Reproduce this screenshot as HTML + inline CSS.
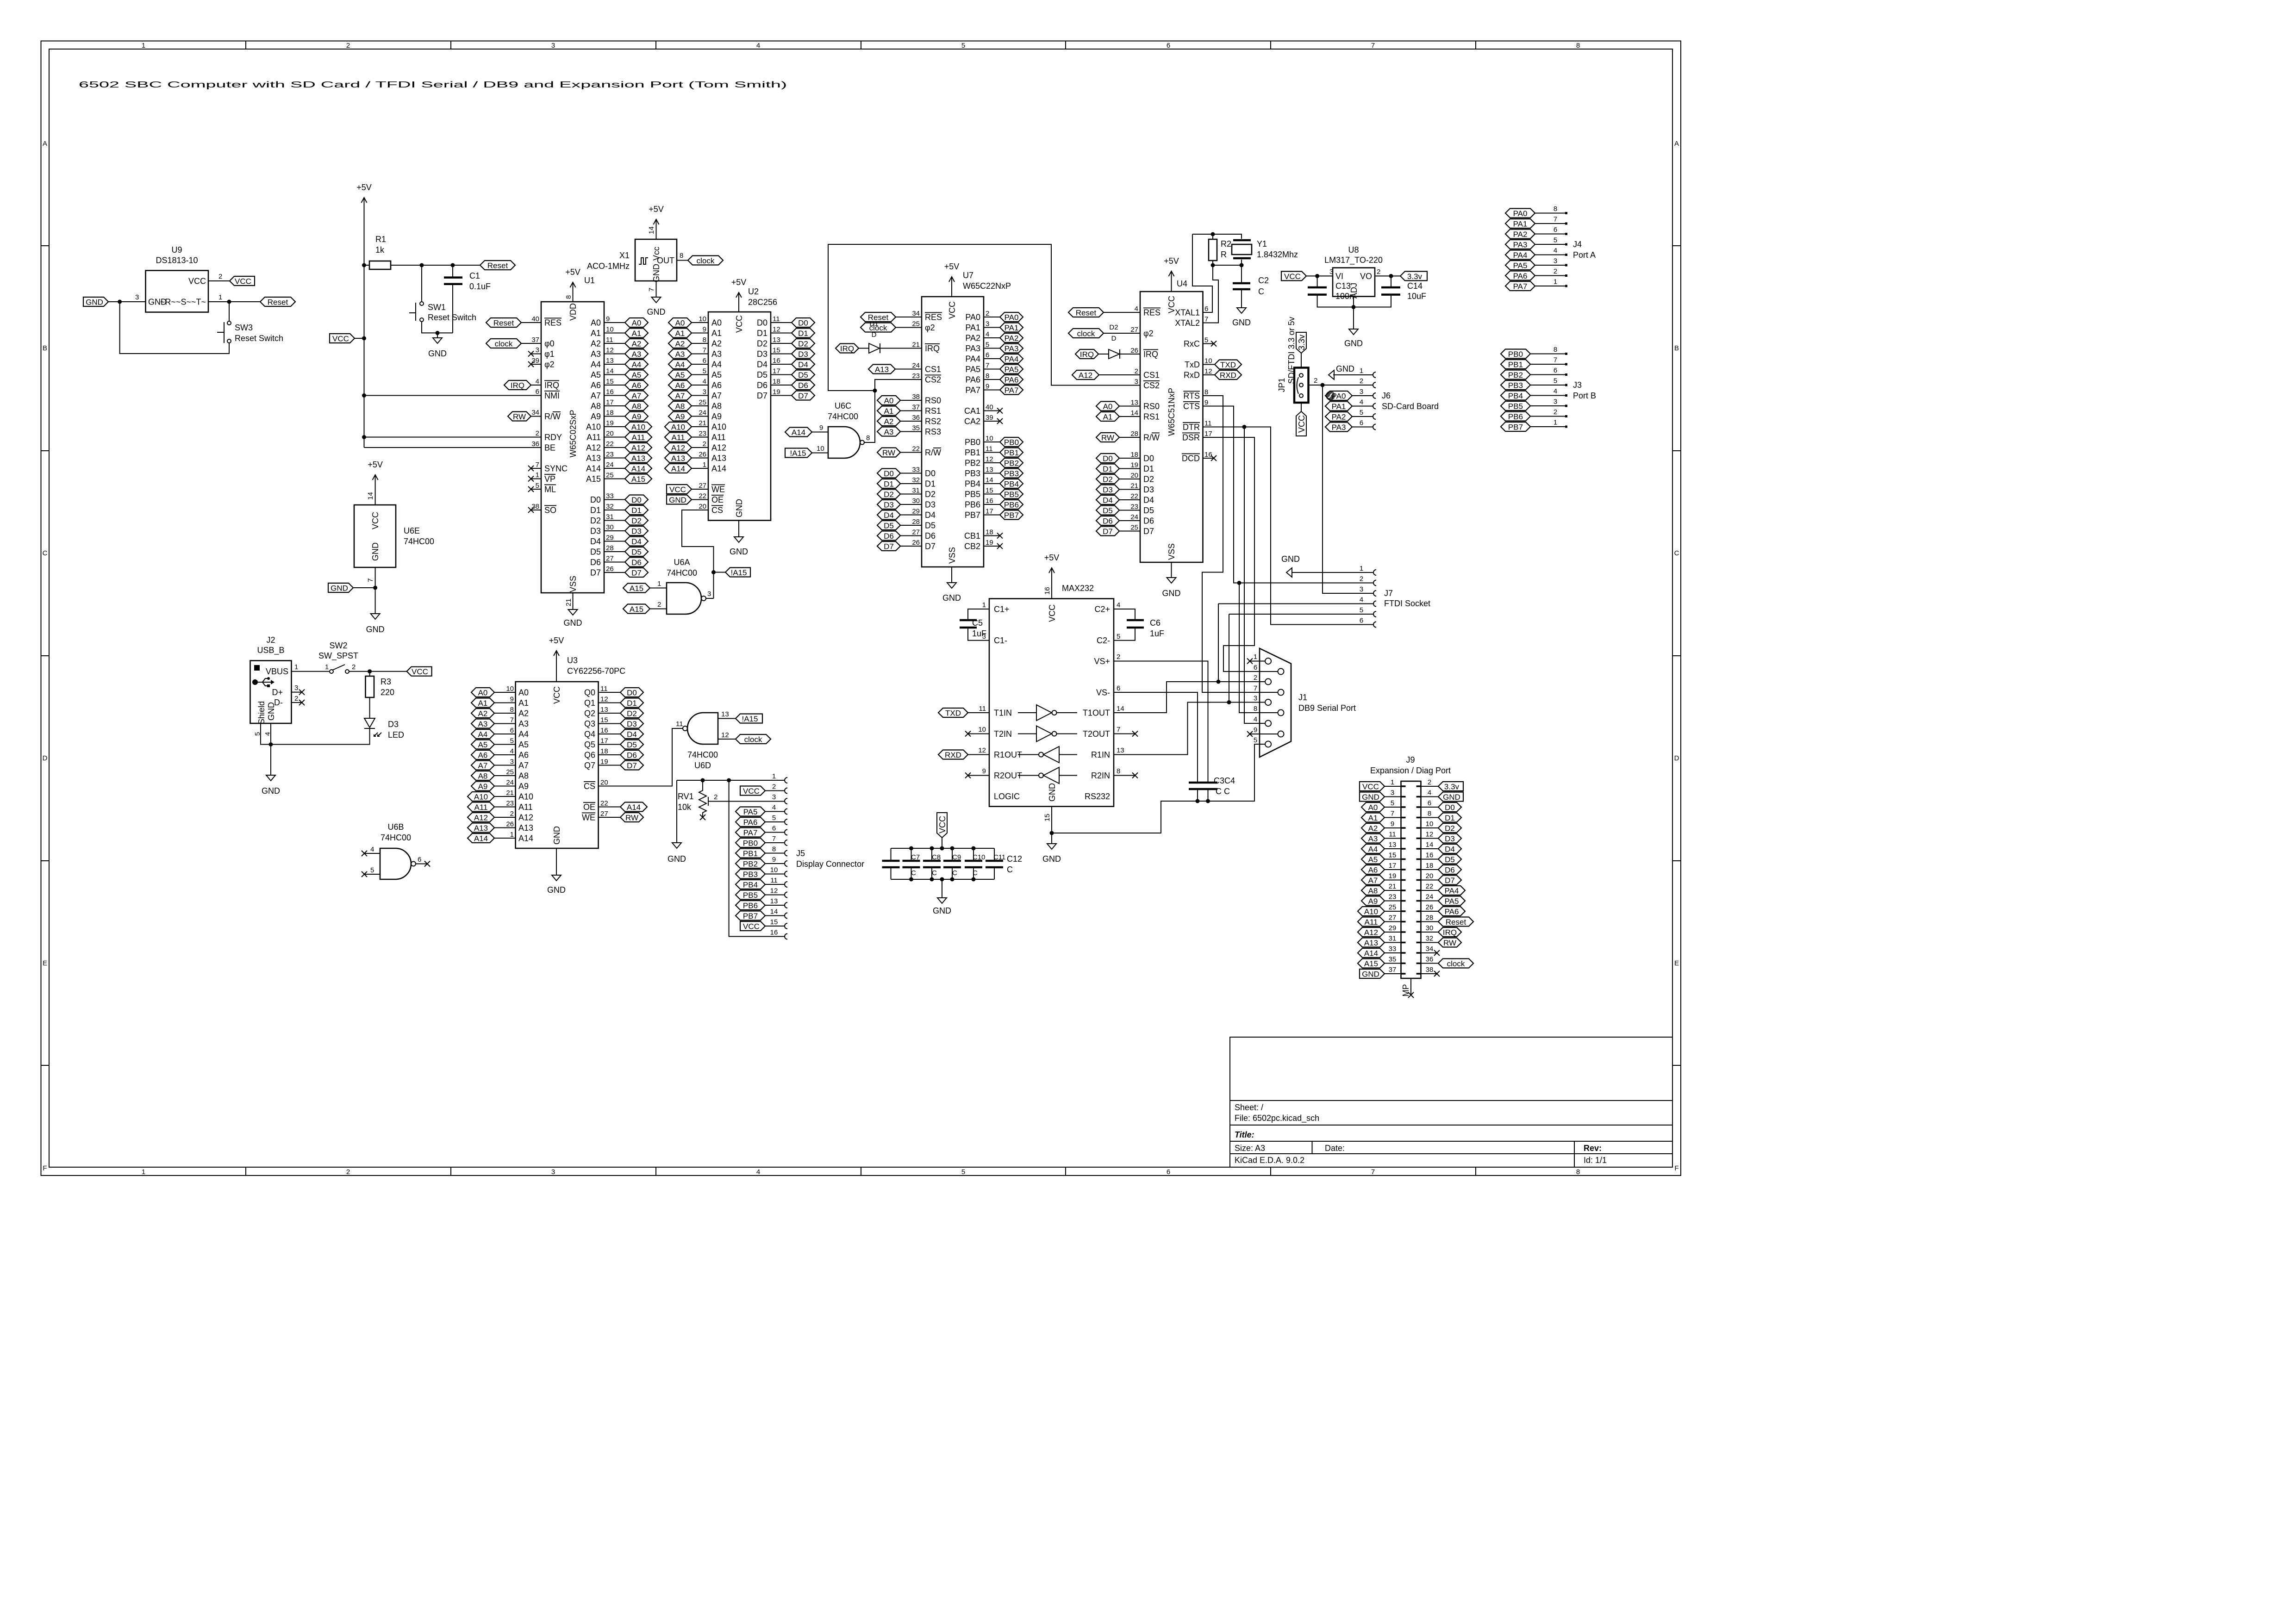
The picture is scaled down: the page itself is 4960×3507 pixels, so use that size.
<!DOCTYPE html>
<html><head><meta charset="utf-8"><title>6502 SBC schematic</title>
<style>
html,body{margin:0;padding:0;background:#fff}
svg{display:block}
text{font-family:"Liberation Sans",sans-serif;font-size:18px;fill:#000}
.n{font-size:15px}
.m{text-anchor:middle}
.e{text-anchor:end}
.l{font-size:17px;text-anchor:middle}
.o{text-decoration:overline}
.w{fill:none;stroke:#000;stroke-width:2}
.b{fill:none;stroke:#000;stroke-width:2.6}
.t{fill:none;stroke:#000;stroke-width:4.5}
.j{fill:#000}
</style></head><body>
<svg width="4960" height="3507" viewBox="0 0 4960 3507" xmlns="http://www.w3.org/2000/svg">
<defs>
<path id="h50" d="M0 0l10-10h30l10 10-10 10h-30z" fill="none" stroke="#000" stroke-width="2.2"/>
<path id="h58" d="M0 0l10-10h38l10 10-10 10h-38z" fill="none" stroke="#000" stroke-width="2.2"/>
<path id="h64" d="M0 0l10-10h44l10 10-10 10h-44z" fill="none" stroke="#000" stroke-width="2.2"/>
<path id="h76" d="M0 0l10-10h56l10 10-10 10h-56z" fill="none" stroke="#000" stroke-width="2.2"/>
<path id="r54" d="M0-10h44l10 10-10 10h-44z" fill="none" stroke="#000" stroke-width="2.2"/>
<path id="r58" d="M0-10h48l10 10-10 10h-48z" fill="none" stroke="#000" stroke-width="2.2"/>
<path id="p54" d="M0 0l10-10h44v20h-44z" fill="none" stroke="#000" stroke-width="2.2"/>
<path id="p58" d="M0 0l10-10h48v20h-48z" fill="none" stroke="#000" stroke-width="2.2"/>
<path id="g" d="M-10 0h20l-10 12z" fill="none" stroke="#000" stroke-width="2"/>
<path id="v" d="M-6 11L0 0l6 11" fill="none" stroke="#000" stroke-width="2"/>
<path id="x" d="M-6-6l12 12m0-12l-12 12" fill="none" stroke="#000" stroke-width="2"/>
<path id="k" d="M5-6a6 6 0 0 0 0 12" fill="none" stroke="#000" stroke-width="2"/>
</defs>
<rect width="4960" height="3507" fill="#fff"/>

<!-- ===== Border ===== -->
<rect x="88.5" y="88.5" width="3542.5" height="2451.5" class="w"/>
<rect x="106" y="106" width="3507" height="2416" class="w"/>
<path class="w" d="M531 88.5V106M974 88.5V106M1417 88.5V106M1860 88.5V106M2302 88.5V106M2745 88.5V106M3188 88.5V106M531 2522V2540M974 2522V2540M1417 2522V2540M1860 2522V2540M2302 2522V2540M2745 2522V2540M3188 2522V2540M88.5 531H106M88.5 974H106M88.5 1417H106M88.5 1860H106M88.5 2302H106M3613 531H3631M3613 974H3631M3613 1417H3631M3613 1860H3631M3613 2302H3631"/>
<g class="m" style="font-size:15px">
<text x="310" y="103" class="m n">1</text><text x="752" y="103" class="m n">2</text><text x="1195" y="103" class="m n">3</text><text x="1638" y="103" class="m n">4</text><text x="2081" y="103" class="m n">5</text><text x="2524" y="103" class="m n">6</text><text x="2966" y="103" class="m n">7</text><text x="3409" y="103" class="m n">8</text>
<text x="310" y="2537" class="m n">1</text><text x="752" y="2537" class="m n">2</text><text x="1195" y="2537" class="m n">3</text><text x="1638" y="2537" class="m n">4</text><text x="2081" y="2537" class="m n">5</text><text x="2524" y="2537" class="m n">6</text><text x="2966" y="2537" class="m n">7</text><text x="3409" y="2537" class="m n">8</text>
<text x="97" y="315" class="m n">A</text><text x="97" y="757" class="m n">B</text><text x="97" y="1200" class="m n">C</text><text x="97" y="1643" class="m n">D</text><text x="97" y="2086" class="m n">E</text><text x="97" y="2529" class="m n">F</text>
<text x="3622" y="315" class="m n">A</text><text x="3622" y="757" class="m n">B</text><text x="3622" y="1200" class="m n">C</text><text x="3622" y="1643" class="m n">D</text><text x="3622" y="2086" class="m n">E</text><text x="3622" y="2529" class="m n">F</text>
</g>

<text x="170" y="189" font-size="34" textLength="1530" lengthAdjust="spacingAndGlyphs">6502 SBC Computer with SD Card / TFDI Serial / DB9 and Expansion Port (Tom Smith)</text>

<!-- ===== Title block ===== -->
<rect x="2657" y="2241" width="956" height="281" class="w"/>
<path class="w" d="M2657 2378H3613M2657 2431H3613M2657 2466H3613M2657 2493H3613M2834.5 2466V2493M3401 2466V2522"/>
<text x="2667" y="2399" font-size="19">Sheet: /</text>
<text x="2667" y="2422" font-size="19">File: 6502pc.kicad_sch</text>
<text x="2667" y="2458" font-size="28" font-weight="bold" font-style="italic">Title:</text>
<text x="2667" y="2487" font-size="19">Size: A3</text>
<text x="2862" y="2487" font-size="19">Date:</text>
<text x="3421" y="2487" font-size="19" font-weight="bold">Rev:</text>
<text x="2667" y="2513" font-size="19">KiCad E.D.A. 9.0.2</text>
<text x="3421" y="2513" font-size="19">Id: 1/1</text>

<!-- ===== U9 DS1813 ===== -->
<rect x="314.5" y="584.5" width="135.5" height="90" class="b"/>
<path class="w" d="M450 607H496M235 652H314.5M450 652H562M495 652V694M495 741V764H258.6V652M484 696V741M469 718H484"/>
<circle cx="495" cy="698" r="4" class="w"/><circle cx="495" cy="737" r="4" class="w"/>
<circle cx="258.6" cy="652" r="4.5" class="j"/><circle cx="495" cy="652" r="4.5" class="j"/>
<use href="#p54" x="496" y="607"/><text x="525" y="613.5" class="l">VCC</text>
<use href="#r54" x="180" y="652"/><text x="204" y="658.5" class="l">GND</text>
<use href="#h76" x="562" y="652"/><text x="600" y="658.5" class="l">Reset</text>
<text x="382" y="546" class="m">U9</text><text x="382" y="568.5" class="m">DS1813-10</text>
<text x="445" y="613.5" class="e">VCC</text><text x="320" y="658.5">GND</text><text x="445" y="658.5" class="e" font-size="16">~R~~S~~T~</text>
<text x="472" y="602" class="n">2</text><text x="292" y="647" class="n">3</text><text x="472" y="647" class="n">1</text>
<text x="507" y="714">SW3</text><text x="507" y="737">Reset Switch</text>

<!-- ===== +5V rail, R1, C1, SW1 ===== -->
<use href="#v" x="786.5" y="427"/><text x="786.5" y="411" class="m">+5V</text>
<rect x="798" y="564" width="46" height="18" class="b"/>
<path class="w" d="M786.5 427V967M786.5 573H798M844 573H1037M978 573V599.6M978 613.7V719.4M911 573V652M911 695V719.4H978M945 719.4V730M898 654V693M884 676H898M765 731H786.5"/>
<path class="t" d="M959 599.6H999M959 613.7H999"/>
<circle cx="911" cy="656" r="4" class="w"/><circle cx="911" cy="691" r="4" class="w"/>
<circle cx="786.5" cy="573" r="4.5" class="j"/><circle cx="911" cy="573" r="4.5" class="j"/><circle cx="978" cy="573" r="4.5" class="j"/><circle cx="945" cy="719.4" r="4.5" class="j"/><circle cx="786.5" cy="731" r="4.5" class="j"/><circle cx="786.5" cy="854.5" r="4.5" class="j"/><circle cx="786.5" cy="944.5" r="4.5" class="j"/>
<use href="#h76" x="1037" y="573"/><text x="1075" y="579.5" class="l">Reset</text>
<use href="#g" x="945" y="730"/><text x="945" y="770" class="m">GND</text>
<use href="#r54" x="712" y="731"/><text x="736" y="737.5" class="l">VCC</text>
<text x="811" y="523">R1</text><text x="811" y="546">1k</text>
<text x="1014" y="602">C1</text><text x="1014" y="625">0.1uF</text>
<text x="924" y="670">SW1</text><text x="924" y="692">Reset Switch</text>

<!-- ===== U1 W65C02 ===== -->
<rect x="1169" y="652" width="136" height="629" class="b"/>
<path class="w" d="M1126 697H1169M1126 742H1169M1147 764.5h22M1147 787h22M1147 832h22M786.5 854.5H1169M1147 899.5h22M786.5 944.5H1169M786.5 967H1169M1147 1012h22M1147 1034.5h22M1147 1057h22M1147 1102h22M1237.5 610V652M1237.5 1281V1317
M1305 697h45M1305 719.5h45M1305 742h45M1305 764.5h45M1305 787h45M1305 809.5h45M1305 832h45M1305 854.5h45M1305 877h45M1305 899.5h45M1305 922h45M1305 944.5h45M1305 967h45M1305 989.5h45M1305 1012h45M1305 1034.5h45M1305 1079.5h45M1305 1102h45M1305 1124.5h45M1305 1147h45M1305 1169.5h45M1305 1192h45M1305 1214.5h45M1305 1237h45"/>
<use href="#x" x="1147" y="764.5"/><use href="#x" x="1147" y="787"/><use href="#x" x="1147" y="1012"/><use href="#x" x="1147" y="1034.5"/><use href="#x" x="1147" y="1057"/><use href="#x" x="1147" y="1102"/>
<use href="#v" x="1237.5" y="610"/><text x="1237.5" y="594" class="m">+5V</text><text x="1262" y="612">U1</text>
<use href="#g" x="1237.5" y="1317"/><text x="1237.5" y="1352" class="m">GND</text>
<use href="#h76" x="1050" y="697"/><text x="1088" y="703.5" class="l">Reset</text>
<use href="#h76" x="1050" y="742"/><text x="1088" y="748.5" class="l">clock</text>
<use href="#h58" x="1089" y="832"/><text x="1118" y="838.5" class="l">IRQ</text>
<use href="#h50" x="1097" y="899.5"/><text x="1122" y="906" class="l">RW</text>
<g class="n e">
<text x="1165" y="694" class="n e">40</text><text x="1165" y="739" class="n e">37</text><text x="1165" y="761" class="n e">3</text><text x="1165" y="784" class="n e">39</text><text x="1165" y="829" class="n e">4</text><text x="1165" y="851" class="n e">6</text><text x="1165" y="896" class="n e">34</text><text x="1165" y="941" class="n e">2</text><text x="1165" y="964" class="n e">36</text><text x="1165" y="1009" class="n e">7</text><text x="1165" y="1031" class="n e">1</text><text x="1165" y="1054" class="n e">5</text><text x="1165" y="1099" class="n e">38</text>
</g>
<text x="1176" y="703.5" class="o">RES</text><text x="1176" y="748.5">φ0</text><text x="1176" y="771">φ1</text><text x="1176" y="793.5">φ2</text><text x="1176" y="838.5" class="o">IRQ</text><text x="1176" y="861" class="o">NMI</text><text x="1176" y="906">R/<tspan class="o">W</tspan></text><text x="1176" y="951">RDY</text><text x="1176" y="973.5">BE</text><text x="1176" y="1018.5">SYNC</text><text x="1176" y="1041" class="o">VP</text><text x="1176" y="1063.5" class="o">ML</text><text x="1176" y="1108.5" class="o">SO</text>
<text x="1298" y="703.5" class="e">A0</text><text x="1298" y="726" class="e">A1</text><text x="1298" y="748.5" class="e">A2</text><text x="1298" y="771" class="e">A3</text><text x="1298" y="793.5" class="e">A4</text><text x="1298" y="816" class="e">A5</text><text x="1298" y="838.5" class="e">A6</text><text x="1298" y="861" class="e">A7</text><text x="1298" y="883.5" class="e">A8</text><text x="1298" y="906" class="e">A9</text><text x="1298" y="928.5" class="e">A10</text><text x="1298" y="951" class="e">A11</text><text x="1298" y="973.5" class="e">A12</text><text x="1298" y="996" class="e">A13</text><text x="1298" y="1018.5" class="e">A14</text><text x="1298" y="1041" class="e">A15</text>
<text x="1298" y="1086" class="e">D0</text><text x="1298" y="1108.5" class="e">D1</text><text x="1298" y="1131" class="e">D2</text><text x="1298" y="1153.5" class="e">D3</text><text x="1298" y="1176" class="e">D4</text><text x="1298" y="1198.5" class="e">D5</text><text x="1298" y="1221" class="e">D6</text><text x="1298" y="1243.5" class="e">D7</text>
<g>
<text x="1309" y="694" class="n">9</text><text x="1309" y="716.5" class="n">10</text><text x="1309" y="739" class="n">11</text><text x="1309" y="761.5" class="n">12</text><text x="1309" y="784" class="n">13</text><text x="1309" y="806.5" class="n">14</text><text x="1309" y="829" class="n">15</text><text x="1309" y="851.5" class="n">16</text><text x="1309" y="874" class="n">17</text><text x="1309" y="896.5" class="n">18</text><text x="1309" y="919" class="n">19</text><text x="1309" y="941.5" class="n">20</text><text x="1309" y="964" class="n">22</text><text x="1309" y="986.5" class="n">23</text><text x="1309" y="1009" class="n">24</text><text x="1309" y="1031.5" class="n">25</text>
<text x="1309" y="1076.5" class="n">33</text><text x="1309" y="1099" class="n">32</text><text x="1309" y="1121.5" class="n">31</text><text x="1309" y="1144" class="n">30</text><text x="1309" y="1166.5" class="n">29</text><text x="1309" y="1189" class="n">28</text><text x="1309" y="1211.5" class="n">27</text><text x="1309" y="1234" class="n">26</text>
</g>
<text transform="translate(1244 674) rotate(-90)" class="m">VDD</text><text transform="translate(1244 1262) rotate(-90)" class="m">VSS</text><text transform="translate(1244 937) rotate(-90)" class="m">W65C02SxP</text>
<text transform="translate(1233 646) rotate(-90)" class="n">8</text><text transform="translate(1233 1310) rotate(-90)" class="n">21</text>
<use href="#h50" x="1350" y="697"/><use href="#h50" x="1350" y="719.5"/><use href="#h50" x="1350" y="742"/><use href="#h50" x="1350" y="764.5"/><use href="#h50" x="1350" y="787"/><use href="#h50" x="1350" y="809.5"/><use href="#h50" x="1350" y="832"/><use href="#h50" x="1350" y="854.5"/><use href="#h50" x="1350" y="877"/><use href="#h50" x="1350" y="899.5"/><use href="#h58" x="1350" y="922"/><use href="#h58" x="1350" y="944.5"/><use href="#h58" x="1350" y="967"/><use href="#h58" x="1350" y="989.5"/><use href="#h58" x="1350" y="1012"/><use href="#h58" x="1350" y="1034.5"/>
<use href="#h50" x="1350" y="1079.5"/><use href="#h50" x="1350" y="1102"/><use href="#h50" x="1350" y="1124.5"/><use href="#h50" x="1350" y="1147"/><use href="#h50" x="1350" y="1169.5"/><use href="#h50" x="1350" y="1192"/><use href="#h50" x="1350" y="1214.5"/><use href="#h50" x="1350" y="1237"/>
<text x="1375" y="703.5" class="l">A0</text><text x="1375" y="726" class="l">A1</text><text x="1375" y="748.5" class="l">A2</text><text x="1375" y="771" class="l">A3</text><text x="1375" y="793.5" class="l">A4</text><text x="1375" y="816" class="l">A5</text><text x="1375" y="838.5" class="l">A6</text><text x="1375" y="861" class="l">A7</text><text x="1375" y="883.5" class="l">A8</text><text x="1375" y="906" class="l">A9</text><text x="1379" y="928.5" class="l">A10</text><text x="1379" y="951" class="l">A11</text><text x="1379" y="973.5" class="l">A12</text><text x="1379" y="996" class="l">A13</text><text x="1379" y="1018.5" class="l">A14</text><text x="1379" y="1041" class="l">A15</text>
<text x="1375" y="1086" class="l">D0</text><text x="1375" y="1108.5" class="l">D1</text><text x="1375" y="1131" class="l">D2</text><text x="1375" y="1153.5" class="l">D3</text><text x="1375" y="1176" class="l">D4</text><text x="1375" y="1198.5" class="l">D5</text><text x="1375" y="1221" class="l">D6</text><text x="1375" y="1243.5" class="l">D7</text>

<!-- ===== X1 oscillator ===== -->
<rect x="1372" y="517" width="90" height="90" class="b"/>
<path class="w" d="M1417.5 474V517M1462 562.5H1486M1417.5 607V642M1380 571h5v-14h5v14h5v-14h5"/>
<use href="#v" x="1417.5" y="474"/><text x="1417.5" y="458" class="m">+5V</text>
<use href="#g" x="1417.5" y="642"/><text x="1417.5" y="680" class="m">GND</text>
<use href="#h76" x="1486" y="562.5"/><text x="1524" y="569" class="l">clock</text>
<text transform="translate(1424 548) rotate(-90)" class="m">Vcc</text><text transform="translate(1424 590) rotate(-90)" class="m">GND</text><text x="1457" y="569" class="e">OUT</text>
<text x="1360" y="558" class="e">X1</text><text x="1360" y="581" class="e">ACO-1MHz</text>
<text x="1468" y="557" class="n">8</text><text transform="translate(1412 506) rotate(-90)" class="n">14</text><text transform="translate(1412 630) rotate(-90)" class="n">7</text>

<!-- ===== U2 28C256 ===== -->
<rect x="1530" y="674" width="135" height="450.5" class="b"/>
<path class="w" d="M1494 697h36M1494 719.5h36M1494 742h36M1494 764.5h36M1494 787h36M1494 809.5h36M1494 832h36M1494 854.5h36M1494 877h36M1494 899.5h36M1494 922h36M1494 944.5h36M1494 967h36M1494 989.5h36M1494 1012h36M1494 1057h36M1494 1079.5h36
M1665 697h45M1665 719.5h45M1665 742h45M1665 764.5h45M1665 787h45M1665 809.5h45M1665 832h45M1665 854.5h45M1596 632V674M1596 1124.5V1160
M1530 1102H1473V1181H1541.5V1293M1525 1293H1541.5M1541.5 1236.5H1567"/>
<circle cx="1541.5" cy="1236.5" r="4.5" class="j"/>
<use href="#v" x="1596" y="632"/><text x="1596" y="616" class="m">+5V</text><text x="1616" y="636">U2</text><text x="1616" y="659">28C256</text>
<use href="#g" x="1596" y="1160"/><text x="1596" y="1198" class="m">GND</text>
<text transform="translate(1603 700) rotate(-90)" class="m">VCC</text><text transform="translate(1603 1098) rotate(-90)" class="m">GND</text>
<text x="1537" y="703.5">A0</text><text x="1537" y="726">A1</text><text x="1537" y="748.5">A2</text><text x="1537" y="771">A3</text><text x="1537" y="793.5">A4</text><text x="1537" y="816">A5</text><text x="1537" y="838.5">A6</text><text x="1537" y="861">A7</text><text x="1537" y="883.5">A8</text><text x="1537" y="906">A9</text><text x="1537" y="928.5">A10</text><text x="1537" y="951">A11</text><text x="1537" y="973.5">A12</text><text x="1537" y="996">A13</text><text x="1537" y="1018.5">A14</text><text x="1537" y="1063.5" class="o">WE</text><text x="1537" y="1086" class="o">OE</text><text x="1537" y="1108.5" class="o">CS</text>
<text x="1658" y="703.5" class="e">D0</text><text x="1658" y="726" class="e">D1</text><text x="1658" y="748.5" class="e">D2</text><text x="1658" y="771" class="e">D3</text><text x="1658" y="793.5" class="e">D4</text><text x="1658" y="816" class="e">D5</text><text x="1658" y="838.5" class="e">D6</text><text x="1658" y="861" class="e">D7</text>
<text x="1526" y="694" class="n e">10</text><text x="1526" y="716.5" class="n e">9</text><text x="1526" y="739" class="n e">8</text><text x="1526" y="761.5" class="n e">7</text><text x="1526" y="784" class="n e">6</text><text x="1526" y="806.5" class="n e">5</text><text x="1526" y="829" class="n e">4</text><text x="1526" y="851.5" class="n e">3</text><text x="1526" y="874" class="n e">25</text><text x="1526" y="896.5" class="n e">24</text><text x="1526" y="919" class="n e">21</text><text x="1526" y="941.5" class="n e">23</text><text x="1526" y="964" class="n e">2</text><text x="1526" y="986.5" class="n e">26</text><text x="1526" y="1009" class="n e">1</text><text x="1526" y="1054" class="n e">27</text><text x="1526" y="1076.5" class="n e">22</text><text x="1526" y="1099" class="n e">20</text>
<text x="1669" y="694" class="n">11</text><text x="1669" y="716.5" class="n">12</text><text x="1669" y="739" class="n">13</text><text x="1669" y="761.5" class="n">15</text><text x="1669" y="784" class="n">16</text><text x="1669" y="806.5" class="n">17</text><text x="1669" y="829" class="n">18</text><text x="1669" y="851.5" class="n">19</text>
<use href="#h50" x="1444" y="697"/><use href="#h50" x="1444" y="719.5"/><use href="#h50" x="1444" y="742"/><use href="#h50" x="1444" y="764.5"/><use href="#h50" x="1444" y="787"/><use href="#h50" x="1444" y="809.5"/><use href="#h50" x="1444" y="832"/><use href="#h50" x="1444" y="854.5"/><use href="#h50" x="1444" y="877"/><use href="#h50" x="1444" y="899.5"/><use href="#h58" x="1436" y="922"/><use href="#h58" x="1436" y="944.5"/><use href="#h58" x="1436" y="967"/><use href="#h58" x="1436" y="989.5"/><use href="#h58" x="1436" y="1012"/>
<text x="1469" y="703.5" class="l">A0</text><text x="1469" y="726" class="l">A1</text><text x="1469" y="748.5" class="l">A2</text><text x="1469" y="771" class="l">A3</text><text x="1469" y="793.5" class="l">A4</text><text x="1469" y="816" class="l">A5</text><text x="1469" y="838.5" class="l">A6</text><text x="1469" y="861" class="l">A7</text><text x="1469" y="883.5" class="l">A8</text><text x="1469" y="906" class="l">A9</text><text x="1465" y="928.5" class="l">A10</text><text x="1465" y="951" class="l">A11</text><text x="1465" y="973.5" class="l">A12</text><text x="1465" y="996" class="l">A13</text><text x="1465" y="1018.5" class="l">A14</text>
<use href="#r54" x="1440" y="1057"/><text x="1464" y="1063.5" class="l">VCC</text><use href="#r54" x="1440" y="1079.5"/><text x="1464" y="1086" class="l">GND</text>
<use href="#h50" x="1710" y="697"/><use href="#h50" x="1710" y="719.5"/><use href="#h50" x="1710" y="742"/><use href="#h50" x="1710" y="764.5"/><use href="#h50" x="1710" y="787"/><use href="#h50" x="1710" y="809.5"/><use href="#h50" x="1710" y="832"/><use href="#h50" x="1710" y="854.5"/>
<text x="1735" y="703.5" class="l">D0</text><text x="1735" y="726" class="l">D1</text><text x="1735" y="748.5" class="l">D2</text><text x="1735" y="771" class="l">D3</text><text x="1735" y="793.5" class="l">D4</text><text x="1735" y="816" class="l">D5</text><text x="1735" y="838.5" class="l">D6</text><text x="1735" y="861" class="l">D7</text>
<use href="#p54" x="1567" y="1236.5"/><text x="1596" y="1243" class="l">!A15</text>

<!-- ===== U6A ===== -->
<path class="b" d="M1440 1259H1481A34 34 0 0 1 1481 1327H1440Z"/>
<circle cx="1520" cy="1293" r="5" class="w"/>
<path class="w" d="M1404 1270.5H1440M1404 1315.5H1440"/>
<use href="#h58" x="1346" y="1270.5"/><text x="1375" y="1277" class="l">A15</text>
<use href="#h58" x="1346" y="1315.5"/><text x="1375" y="1322" class="l">A15</text>
<text x="1473" y="1221" class="m">U6A</text><text x="1473" y="1244" class="m">74HC00</text>
<text x="1420" y="1266" class="n">1</text><text x="1420" y="1311" class="n">2</text><text x="1528" y="1288" class="n">3</text>

<!-- ===== U6C + CS loop ===== -->
<path class="b" d="M1789 922H1824A34 34 0 0 1 1824 990H1789Z"/>
<circle cx="1862.5" cy="956" r="4.5" class="w"/>
<path class="w" d="M1754 933.5H1789M1754 978.5H1789M1867 956H1890V820H1991M1890 844H1789V528H2271V832.5H2463"/>
<circle cx="1890" cy="844" r="4.5" class="j"/>
<use href="#h58" x="1696" y="933.5"/><text x="1725" y="940" class="l">A14</text>
<use href="#r58" x="1696" y="978.5"/><text x="1724" y="985" class="l">!A15</text>
<text x="1821" y="883" class="m">U6C</text><text x="1821" y="906" class="m">74HC00</text>
<text x="1770" y="929" class="n">9</text><text x="1764" y="974" class="n">10</text><text x="1871" y="951" class="n">8</text>

<!-- ===== U7 W65C22 ===== -->
<rect x="1991" y="641" width="134" height="584" class="b"/>
<path class="w" d="M1935 685H1991M1935 707.5H1991M1855 752.5H1877M1901 752.5H1991M1934 797.5H1991M1945 865h46M1945 887.5h46M1945 910h46M1945 932.5h46M1945 977.5h46M1945 1022.5h46M1945 1045h46M1945 1067.5h46M1945 1090h46M1945 1112.5h46M1945 1135h46M1945 1157.5h46M1945 1180h46
M2125 685h35M2125 707.5h35M2125 730h35M2125 752.5h35M2125 775h35M2125 797.5h35M2125 820h35M2125 842.5h35M2125 887.5h35M2125 910h35M2125 955h35M2125 977.5h35M2125 1000h35M2125 1022.5h35M2125 1045h35M2125 1067.5h35M2125 1090h35M2125 1112.5h35M2125 1157.5h35M2125 1180h35M2056 598V641M2056 1225V1259
M1901 742V763"/>
<path d="M1877 742V763L1900 752.5Z" class="w"/>
<use href="#x" x="2160" y="887.5"/><use href="#x" x="2160" y="910"/><use href="#x" x="2160" y="1157.5"/><use href="#x" x="2160" y="1180"/>
<use href="#v" x="2056" y="598"/><text x="2056" y="582" class="m">+5V</text><text x="2080" y="601">U7</text><text x="2080" y="624">W65C22NxP</text>
<use href="#g" x="2056" y="1259"/><text x="2056" y="1298" class="m">GND</text>
<text transform="translate(2063 670) rotate(-90)" class="m">VCC</text><text transform="translate(2063 1200) rotate(-90)" class="m">VSS</text>
<use href="#h76" x="1859" y="685"/><text x="1897" y="691.5" class="l">Reset</text>
<use href="#h76" x="1859" y="707.5"/><text x="1897" y="714" class="l">clock</text>
<text x="1888" y="704" class="m n">D1</text><text x="1888" y="728" class="m n">D</text>
<use href="#h50" x="1805" y="752.5"/><text x="1830" y="759" class="l">IRQ</text>
<use href="#h58" x="1876" y="797.5"/><text x="1905" y="804" class="l">A13</text>
<use href="#h50" x="1895" y="865"/><use href="#h50" x="1895" y="887.5"/><use href="#h50" x="1895" y="910"/><use href="#h50" x="1895" y="932.5"/><use href="#h50" x="1895" y="977.5"/>
<use href="#h50" x="1895" y="1022.5"/><use href="#h50" x="1895" y="1045"/><use href="#h50" x="1895" y="1067.5"/><use href="#h50" x="1895" y="1090"/><use href="#h50" x="1895" y="1112.5"/><use href="#h50" x="1895" y="1135"/><use href="#h50" x="1895" y="1157.5"/><use href="#h50" x="1895" y="1180"/>
<text x="1920" y="871.5" class="l">A0</text><text x="1920" y="894" class="l">A1</text><text x="1920" y="916.5" class="l">A2</text><text x="1920" y="939" class="l">A3</text><text x="1920" y="984" class="l">RW</text>
<text x="1920" y="1029" class="l">D0</text><text x="1920" y="1051.5" class="l">D1</text><text x="1920" y="1074" class="l">D2</text><text x="1920" y="1096.5" class="l">D3</text><text x="1920" y="1119" class="l">D4</text><text x="1920" y="1141.5" class="l">D5</text><text x="1920" y="1164" class="l">D6</text><text x="1920" y="1186.5" class="l">D7</text>
<text x="1998" y="691.5" class="o">RES</text><text x="1998" y="714">φ2</text><text x="1998" y="759" class="o">IRQ</text><text x="1998" y="804">CS1</text><text x="1998" y="826.5" class="o">CS2</text><text x="1998" y="871.5">RS0</text><text x="1998" y="894">RS1</text><text x="1998" y="916.5">RS2</text><text x="1998" y="939">RS3</text><text x="1998" y="984">R/<tspan class="o">W</tspan></text>
<text x="1998" y="1029">D0</text><text x="1998" y="1051.5">D1</text><text x="1998" y="1074">D2</text><text x="1998" y="1096.5">D3</text><text x="1998" y="1119">D4</text><text x="1998" y="1141.5">D5</text><text x="1998" y="1164">D6</text><text x="1998" y="1186.5">D7</text>
<text x="2118" y="691.5" class="e">PA0</text><text x="2118" y="714" class="e">PA1</text><text x="2118" y="736.5" class="e">PA2</text><text x="2118" y="759" class="e">PA3</text><text x="2118" y="781.5" class="e">PA4</text><text x="2118" y="804" class="e">PA5</text><text x="2118" y="826.5" class="e">PA6</text><text x="2118" y="849" class="e">PA7</text><text x="2118" y="894" class="e">CA1</text><text x="2118" y="916.5" class="e">CA2</text>
<text x="2118" y="961.5" class="e">PB0</text><text x="2118" y="984" class="e">PB1</text><text x="2118" y="1006.5" class="e">PB2</text><text x="2118" y="1029" class="e">PB3</text><text x="2118" y="1051.5" class="e">PB4</text><text x="2118" y="1074" class="e">PB5</text><text x="2118" y="1096.5" class="e">PB6</text><text x="2118" y="1119" class="e">PB7</text><text x="2118" y="1164" class="e">CB1</text><text x="2118" y="1186.5" class="e">CB2</text>
<text x="1987" y="682" class="n e">34</text><text x="1987" y="704.5" class="n e">25</text><text x="1987" y="749.5" class="n e">21</text><text x="1987" y="794.5" class="n e">24</text><text x="1987" y="817" class="n e">23</text><text x="1987" y="862" class="n e">38</text><text x="1987" y="884.5" class="n e">37</text><text x="1987" y="907" class="n e">36</text><text x="1987" y="929.5" class="n e">35</text><text x="1987" y="974.5" class="n e">22</text><text x="1987" y="1019.5" class="n e">33</text><text x="1987" y="1042" class="n e">32</text><text x="1987" y="1064.5" class="n e">31</text><text x="1987" y="1087" class="n e">30</text><text x="1987" y="1109.5" class="n e">29</text><text x="1987" y="1132" class="n e">28</text><text x="1987" y="1154.5" class="n e">27</text><text x="1987" y="1177" class="n e">26</text>
<text x="2129" y="682" class="n">2</text><text x="2129" y="704.5" class="n">3</text><text x="2129" y="727" class="n">4</text><text x="2129" y="749.5" class="n">5</text><text x="2129" y="772" class="n">6</text><text x="2129" y="794.5" class="n">7</text><text x="2129" y="817" class="n">8</text><text x="2129" y="839.5" class="n">9</text><text x="2129" y="884.5" class="n">40</text><text x="2129" y="907" class="n">39</text><text x="2129" y="952" class="n">10</text><text x="2129" y="974.5" class="n">11</text><text x="2129" y="997" class="n">12</text><text x="2129" y="1019.5" class="n">13</text><text x="2129" y="1042" class="n">14</text><text x="2129" y="1064.5" class="n">15</text><text x="2129" y="1087" class="n">16</text><text x="2129" y="1109.5" class="n">17</text><text x="2129" y="1154.5" class="n">18</text><text x="2129" y="1177" class="n">19</text>
<use href="#h50" x="2160" y="685"/><use href="#h50" x="2160" y="707.5"/><use href="#h50" x="2160" y="730"/><use href="#h50" x="2160" y="752.5"/><use href="#h50" x="2160" y="775"/><use href="#h50" x="2160" y="797.5"/><use href="#h50" x="2160" y="820"/><use href="#h50" x="2160" y="842.5"/>
<use href="#h50" x="2160" y="955"/><use href="#h50" x="2160" y="977.5"/><use href="#h50" x="2160" y="1000"/><use href="#h50" x="2160" y="1022.5"/><use href="#h50" x="2160" y="1045"/><use href="#h50" x="2160" y="1067.5"/><use href="#h50" x="2160" y="1090"/><use href="#h50" x="2160" y="1112.5"/>
<text x="2185" y="691.5" class="l">PA0</text><text x="2185" y="714" class="l">PA1</text><text x="2185" y="736.5" class="l">PA2</text><text x="2185" y="759" class="l">PA3</text><text x="2185" y="781.5" class="l">PA4</text><text x="2185" y="804" class="l">PA5</text><text x="2185" y="826.5" class="l">PA6</text><text x="2185" y="849" class="l">PA7</text>
<text x="2185" y="961.5" class="l">PB0</text><text x="2185" y="984" class="l">PB1</text><text x="2185" y="1006.5" class="l">PB2</text><text x="2185" y="1029" class="l">PB3</text><text x="2185" y="1051.5" class="l">PB4</text><text x="2185" y="1074" class="l">PB5</text><text x="2185" y="1096.5" class="l">PB6</text><text x="2185" y="1119" class="l">PB7</text>

<!-- ===== U4 W65C51 ===== -->
<rect x="2463" y="630" width="135.5" height="585" class="b"/>
<path class="w" d="M2384 675H2463M2384 720H2463M2373 765H2395M2419 765H2463M2374 810H2463M2418 877.5h45M2418 900h45M2418 945h45M2418 990h45M2418 1012.5h45M2418 1035h45M2418 1057.5h45M2418 1080h45M2418 1102.5h45M2418 1125h45M2418 1147.5h45
M2598 742.5h24M2598 787.5h26M2598 810h26M2598 990h24M2530.5 586V630M2530.5 1215V1248M2419 755V775"/>
<path d="M2395 755V775L2418 765Z" class="w"/>
<use href="#x" x="2622" y="742.5"/><use href="#x" x="2622" y="990"/>
<use href="#v" x="2530.5" y="586"/><text x="2530.5" y="570" class="m">+5V</text><text x="2542" y="619">U4</text>
<use href="#g" x="2530.5" y="1248"/><text x="2530.5" y="1288" class="m">GND</text>
<text transform="translate(2537 658) rotate(-90)" class="m">VCC</text><text transform="translate(2537 1192) rotate(-90)" class="m">VSS</text><text transform="translate(2537 890) rotate(-90)" class="m">W65C51NxP</text>
<use href="#h76" x="2308" y="675"/><text x="2346" y="681.5" class="l">Reset</text>
<use href="#h76" x="2308" y="720"/><text x="2346" y="726.5" class="l">clock</text>
<text x="2406" y="712" class="m n">D2</text><text x="2406" y="736" class="m n">D</text>
<use href="#h50" x="2323" y="765"/><text x="2348" y="771.5" class="l">IRQ</text>
<use href="#h58" x="2316" y="810"/><text x="2345" y="816.5" class="l">A12</text>
<use href="#h50" x="2368" y="877.5"/><use href="#h50" x="2368" y="900"/><use href="#h50" x="2368" y="945"/>
<use href="#h50" x="2368" y="990"/><use href="#h50" x="2368" y="1012.5"/><use href="#h50" x="2368" y="1035"/><use href="#h50" x="2368" y="1057.5"/><use href="#h50" x="2368" y="1080"/><use href="#h50" x="2368" y="1102.5"/><use href="#h50" x="2368" y="1125"/><use href="#h50" x="2368" y="1147.5"/>
<text x="2393" y="884" class="l">A0</text><text x="2393" y="906.5" class="l">A1</text><text x="2393" y="951.5" class="l">RW</text>
<text x="2393" y="996.5" class="l">D0</text><text x="2393" y="1019" class="l">D1</text><text x="2393" y="1041.5" class="l">D2</text><text x="2393" y="1064" class="l">D3</text><text x="2393" y="1086.5" class="l">D4</text><text x="2393" y="1109" class="l">D5</text><text x="2393" y="1131.5" class="l">D6</text><text x="2393" y="1154" class="l">D7</text>
<text x="2470" y="681.5" class="o">RES</text><text x="2470" y="726.5">φ2</text><text x="2470" y="771.5" class="o">IRQ</text><text x="2470" y="816.5">CS1</text><text x="2470" y="839" class="o">CS2</text><text x="2470" y="884">RS0</text><text x="2470" y="906.5">RS1</text><text x="2470" y="951.5">R/<tspan class="o">W</tspan></text>
<text x="2470" y="996.5">D0</text><text x="2470" y="1019">D1</text><text x="2470" y="1041.5">D2</text><text x="2470" y="1064">D3</text><text x="2470" y="1086.5">D4</text><text x="2470" y="1109">D5</text><text x="2470" y="1131.5">D6</text><text x="2470" y="1154">D7</text>
<text x="2592" y="681.5" class="e">XTAL1</text><text x="2592" y="704" class="e">XTAL2</text><text x="2592" y="749" class="e">RxC</text><text x="2592" y="794" class="e">TxD</text><text x="2592" y="816.5" class="e">RxD</text><text x="2592" y="861.5" class="e o">RTS</text><text x="2592" y="884" class="e o">CTS</text><text x="2592" y="929" class="e o">DTR</text><text x="2592" y="951.5" class="e o">DSR</text><text x="2592" y="996.5" class="e o">DCD</text>
<text x="2459" y="672" class="n e">4</text><text x="2459" y="717" class="n e">27</text><text x="2459" y="762" class="n e">26</text><text x="2459" y="807" class="n e">2</text><text x="2459" y="829.5" class="n e">3</text><text x="2459" y="874.5" class="n e">13</text><text x="2459" y="897" class="n e">14</text><text x="2459" y="942" class="n e">28</text><text x="2459" y="987" class="n e">18</text><text x="2459" y="1009.5" class="n e">19</text><text x="2459" y="1032" class="n e">20</text><text x="2459" y="1054.5" class="n e">21</text><text x="2459" y="1077" class="n e">22</text><text x="2459" y="1099.5" class="n e">23</text><text x="2459" y="1122" class="n e">24</text><text x="2459" y="1144.5" class="n e">25</text>
<text x="2602" y="672" class="n">6</text><text x="2602" y="694.5" class="n">7</text><text x="2602" y="739.5" class="n">5</text><text x="2602" y="784.5" class="n">10</text><text x="2602" y="807" class="n">12</text><text x="2602" y="852" class="n">8</text><text x="2602" y="874.5" class="n">9</text><text x="2602" y="919.5" class="n">11</text><text x="2602" y="942" class="n">17</text><text x="2602" y="987" class="n">16</text>
<use href="#h58" x="2624" y="787.5"/><text x="2653" y="794" class="l">TXD</text>
<use href="#h58" x="2624" y="810"/><text x="2653" y="816.5" class="l">RXD</text>

<!-- ===== Crystal Y1, R2, C2 ===== -->
<rect x="2611" y="517" width="18" height="46" class="b"/>
<rect x="2661" y="528" width="43" height="22" class="b"/>
<path class="w" d="M2576 506H2682V516M2620 506V517M2620 563V605H2632V697.5H2598M2598 675H2619V618H2576V506M2682 561V610M2620 573H2682M2682 627V665"/>
<path class="t" d="M2664 519H2702M2664 558H2702M2663 612H2701M2663 625H2701"/>
<circle cx="2620" cy="506" r="4.5" class="j"/><circle cx="2620" cy="573" r="4.5" class="j"/><circle cx="2682" cy="573" r="4.5" class="j"/>
<use href="#g" x="2682" y="665"/><text x="2682" y="703" class="m">GND</text>
<text x="2637" y="533">R2</text><text x="2637" y="556">R</text><text x="2715" y="533">Y1</text><text x="2715" y="556">1.8432Mhz</text>
<text x="2718" y="612">C2</text><text x="2718" y="636">C</text>

<!-- ===== U8 LM317 ===== -->
<rect x="2879" y="578.6" width="91" height="62" class="b"/>
<path class="w" d="M2822 596.4H2879M2845.6 596.4V621M2845.6 637V663.5H3005V637M2970 596.4H3025M3005 596.4V621M2924 640.6V711"/>
<path class="t" d="M2825 621H2866M2825 636.6H2866M2984 621H3025M2984 636.6H3025"/>
<circle cx="2845.6" cy="596.4" r="4.5" class="j"/><circle cx="3005" cy="596.4" r="4.5" class="j"/><circle cx="2924" cy="663.5" r="4.5" class="j"/>
<use href="#r54" x="2768" y="596.4"/><text x="2792" y="603" class="l">VCC</text>
<use href="#p58" x="3025" y="596.4"/><text x="3056" y="603" class="l">3.3v</text>
<use href="#g" x="2924" y="711"/><text x="2924" y="748" class="m">GND</text>
<text x="2924" y="546" class="m">U8</text><text x="2924" y="568" class="m">LM317_TO-220</text>
<text x="2885" y="603">VI</text><text x="2964" y="603" class="e">VO</text><text x="2885" y="624">C13</text><text x="2885" y="646">100n</text>
<text transform="translate(2931 628) rotate(-90)" class="m" font-size="16">ADJ</text>
<text x="2872" y="592" class="n">3</text><text x="2974" y="592" class="n">2</text><text x="3040" y="624">C14</text><text x="3040" y="646">10uF</text>

<!-- ===== J4 Port A / J3 Port B ===== -->
<path class="w" d="M3316 460.5H3385M3316 483H3385M3316 505.5H3385M3316 528H3385M3316 550.5H3385M3316 573H3385M3316 595.5H3385M3316 618H3385M3306 764.5H3385M3306 787H3385M3306 809.5H3385M3306 832H3385M3306 854.5H3385M3306 877H3385M3306 899.5H3385M3306 922H3385"/>
<path d="M3381 458h5v5h-5zM3381 480.5h5v5h-5zM3381 503h5v5h-5zM3381 525.5h5v5h-5zM3381 548h5v5h-5zM3381 570.5h5v5h-5zM3381 593h5v5h-5zM3381 615.5h5v5h-5zM3381 762h5v5h-5zM3381 784.5h5v5h-5zM3381 807h5v5h-5zM3381 829.5h5v5h-5zM3381 852h5v5h-5zM3381 874.5h5v5h-5zM3381 897h5v5h-5zM3381 919.5h5v5h-5z" class="j"/>
<use href="#h64" x="3252" y="460.5"/><use href="#h64" x="3252" y="483"/><use href="#h64" x="3252" y="505.5"/><use href="#h64" x="3252" y="528"/><use href="#h64" x="3252" y="550.5"/><use href="#h64" x="3252" y="573"/><use href="#h64" x="3252" y="595.5"/><use href="#h64" x="3252" y="618"/>
<text x="3284" y="467" class="l">PA0</text><text x="3284" y="489.5" class="l">PA1</text><text x="3284" y="512" class="l">PA2</text><text x="3284" y="534.5" class="l">PA3</text><text x="3284" y="557" class="l">PA4</text><text x="3284" y="579.5" class="l">PA5</text><text x="3284" y="602" class="l">PA6</text><text x="3284" y="624.5" class="l">PA7</text>
<text x="3360" y="456" class="m n">8</text><text x="3360" y="478.5" class="m n">7</text><text x="3360" y="501" class="m n">6</text><text x="3360" y="523.5" class="m n">5</text><text x="3360" y="546" class="m n">4</text><text x="3360" y="568.5" class="m n">3</text><text x="3360" y="591" class="m n">2</text><text x="3360" y="613.5" class="m n">1</text>
<text x="3398" y="534">J4</text><text x="3398" y="557">Port A</text>
<use href="#h64" x="3242" y="764.5"/><use href="#h64" x="3242" y="787"/><use href="#h64" x="3242" y="809.5"/><use href="#h64" x="3242" y="832"/><use href="#h64" x="3242" y="854.5"/><use href="#h64" x="3242" y="877"/><use href="#h64" x="3242" y="899.5"/><use href="#h64" x="3242" y="922"/>
<text x="3274" y="771" class="l">PB0</text><text x="3274" y="793.5" class="l">PB1</text><text x="3274" y="816" class="l">PB2</text><text x="3274" y="838.5" class="l">PB3</text><text x="3274" y="861" class="l">PB4</text><text x="3274" y="883.5" class="l">PB5</text><text x="3274" y="906" class="l">PB6</text><text x="3274" y="928.5" class="l">PB7</text>
<text x="3360" y="760" class="m n">8</text><text x="3360" y="782.5" class="m n">7</text><text x="3360" y="805" class="m n">6</text><text x="3360" y="827.5" class="m n">5</text><text x="3360" y="850" class="m n">4</text><text x="3360" y="872.5" class="m n">3</text><text x="3360" y="895" class="m n">2</text><text x="3360" y="917.5" class="m n">1</text>
<text x="3398" y="838">J3</text><text x="3398" y="861">Port B</text>

<!-- ===== JP1 / J6 ===== -->
<rect x="2796" y="794.5" width="30.5" height="75.5" class="t"/>
<path class="w" d="M2811 763V794.5M2811 870V889M2826.5 832H2967M2880 810H2967M2921 855H2967M2921 877.5H2967M2921 900H2967M2921 922.5H2967M2857 832V1282H2968M2805 815Q2798 833 2805 851"/>
<path class="w" d="M2800 718H2822V753L2811 763L2800 753ZM2800 942H2822V899L2811 889L2800 899Z"/>
<circle cx="2811" cy="811" r="4" class="w"/><circle cx="2811" cy="832" r="4" class="w"/><circle cx="2811" cy="855" r="4" class="w"/>
<circle cx="2857" cy="832" r="4.5" class="j"/>
<circle cx="2874" cy="855" r="10" fill="#444"/><path d="M2868 860q6-2 6-5t6-5" stroke="#fff" stroke-width="2.5" fill="none"/>
<text transform="translate(2818 740) rotate(-90)" class="m" font-size="16">3.3v</text>
<text transform="translate(2818 916) rotate(-90)" class="m" font-size="16">VCC</text>
<text transform="translate(2775 832) rotate(-90)" class="m">JP1</text>
<text transform="translate(2796 757) rotate(-90)" class="m">SD/FTDI 3.3 or 5v</text>
<text x="2838" y="827" class="n">2</text>
<path d="M2870 810L2882 800V820Z" class="w"/><text x="2906" y="803" class="m">GND</text>
<use href="#k" x="2967" y="810"/><use href="#k" x="2967" y="832"/><use href="#k" x="2967" y="855"/><use href="#k" x="2967" y="877.5"/><use href="#k" x="2967" y="900"/><use href="#k" x="2967" y="922.5"/>
<text x="2941" y="806" class="m n">1</text><text x="2941" y="828" class="m n">2</text><text x="2941" y="851" class="m n">3</text><text x="2941" y="873.5" class="m n">4</text><text x="2941" y="896" class="m n">5</text><text x="2941" y="918.5" class="m n">6</text>
<use href="#h58" x="2863" y="855"/><use href="#h58" x="2863" y="877.5"/><use href="#h58" x="2863" y="900"/><use href="#h58" x="2863" y="922.5"/>
<text x="2892" y="861.5" class="l">PA0</text><text x="2892" y="884" class="l">PA1</text><text x="2892" y="906.5" class="l">PA2</text><text x="2892" y="929" class="l">PA3</text>
<text x="2985" y="861">J6</text><text x="2985" y="884">SD-Card Board</text>

<!-- ===== J7 FTDI + DB9 wiring ===== -->
<path class="w" d="M2598 855H2642V1236.5H2597V1496H2760M2598 877.5H2665V1259.5H2968M2677 1259.5V1540H2760M2598 922.5H2745V1349.5H2968M2688 922.5V1563H2733M2598 945H2710V1395H2643V1451H2760M2632 1304.5H2968M2632 1304.5V1473M2655 1327H2968M2655 1327V1517.5M2791 1237H2968M2700 1428.5H2733M2700 1586H2760"/>
<path d="M2779 1237L2791 1227V1247Z" class="w"/><text x="2788" y="1214" class="m">GND</text>
<circle cx="2677" cy="1259.5" r="4.5" class="j"/><circle cx="2688" cy="922.5" r="4.5" class="j"/><circle cx="2632" cy="1473" r="4.5" class="j"/><circle cx="2655" cy="1517.5" r="4.5" class="j"/>
<use href="#k" x="2968" y="1237"/><use href="#k" x="2968" y="1259.5"/><use href="#k" x="2968" y="1282"/><use href="#k" x="2968" y="1304.5"/><use href="#k" x="2968" y="1327"/><use href="#k" x="2968" y="1349.5"/>
<text x="2941" y="1233" class="m n">1</text><text x="2941" y="1255.5" class="m n">2</text><text x="2941" y="1278" class="m n">3</text><text x="2941" y="1300.5" class="m n">4</text><text x="2941" y="1323" class="m n">5</text><text x="2941" y="1345.5" class="m n">6</text>
<text x="2990" y="1288">J7</text><text x="2990" y="1310">FTDI Socket</text>
<path d="M2721 1401L2789 1434V1602L2721 1636Z" class="b"/>
<circle cx="2739.6" cy="1428.5" r="6.5" class="w"/><circle cx="2767" cy="1451" r="6.5" class="w"/><circle cx="2739.6" cy="1473" r="6.5" class="w"/><circle cx="2767" cy="1496" r="6.5" class="w"/><circle cx="2739.6" cy="1517.5" r="6.5" class="w"/><circle cx="2767" cy="1540" r="6.5" class="w"/><circle cx="2739.6" cy="1563" r="6.5" class="w"/><circle cx="2767" cy="1586" r="6.5" class="w"/><circle cx="2739.6" cy="1608" r="6.5" class="w"/>
<use href="#x" x="2700" y="1428.5"/><use href="#x" x="2700" y="1586"/>
<text x="2712" y="1424" class="m n">1</text><text x="2712" y="1447" class="m n">6</text><text x="2712" y="1469" class="m n">2</text><text x="2712" y="1492" class="m n">7</text><text x="2712" y="1513.5" class="m n">3</text><text x="2712" y="1536" class="m n">8</text><text x="2712" y="1559" class="m n">4</text><text x="2712" y="1582" class="m n">9</text><text x="2712" y="1604" class="m n">5</text>
<text x="2805" y="1513">J1</text><text x="2805" y="1536">DB9 Serial Port</text>

<!-- ===== MAX232 ===== -->
<rect x="2137" y="1293.6" width="269" height="449" class="b"/>
<path class="w" d="M2272 1227V1293.6M2272 1742.5V1823M2272 1800H2508V1731H2710V1608H2733M2137 1316H2091V1340M2091 1356V1383.7H2137M2406 1316H2452V1340M2452 1356V1383.7H2406
M2406 1428.5H2609.5V1691M2406 1496H2587V1691M2587 1705V1731M2609.5 1705V1731
M2091 1540H2137M2091 1585.5H2137M2091 1630.5H2137M2091 1675.5H2137M2406 1585.5H2452M2406 1675.5H2452
M2406 1540H2520V1473H2733M2406 1630.5H2565.5V1517.5H2733M2632 1473H2733M2655 1517.5H2733
M2199 1540H2239M2283 1540H2327M2199 1585.5H2239M2283 1585.5H2327M2199 1630.5H2244M2288 1630.5H2327M2199 1675.5H2244M2288 1675.5H2327"/>
<path class="w" d="M2239 1523V1557L2272 1540ZM2239 1568.5V1602.5L2272 1585.5ZM2288 1613V1648L2254 1630.5ZM2288 1658V1693L2254 1675.5Z"/>
<circle cx="2277.5" cy="1540" r="5" class="w"/><circle cx="2277.5" cy="1585.5" r="5" class="w"/><circle cx="2249" cy="1630.5" r="5" class="w"/><circle cx="2249" cy="1675.5" r="5" class="w"/>
<path class="t" d="M2073 1340H2110M2073 1356H2110M2434 1340H2471M2434 1356H2471M2568 1691H2630M2568 1705H2630"/>
<circle cx="2272" cy="1800" r="4.5" class="j"/><circle cx="2587" cy="1731" r="4.5" class="j"/><circle cx="2609.5" cy="1731" r="4.5" class="j"/>
<use href="#x" x="2091" y="1585.5"/><use href="#x" x="2091" y="1675.5"/><use href="#x" x="2452" y="1585.5"/><use href="#x" x="2452" y="1675.5"/>
<use href="#v" x="2272" y="1227"/><text x="2272" y="1211" class="m">+5V</text><text x="2294" y="1277">MAX232</text>
<use href="#g" x="2272" y="1823"/><text x="2272" y="1862" class="m">GND</text>
<use href="#h64" x="2027" y="1540"/><text x="2059" y="1546.5" class="l">TXD</text>
<use href="#h64" x="2027" y="1630.5"/><text x="2059" y="1637" class="l">RXD</text>
<text x="2147" y="1322.5">C1+</text><text x="2147" y="1390">C1-</text><text x="2147" y="1546.5">T1IN</text><text x="2147" y="1592">T2IN</text><text x="2147" y="1637">R1OUT</text><text x="2147" y="1682">R2OUT</text><text x="2147" y="1727">LOGIC</text>
<text x="2398" y="1322.5" class="e">C2+</text><text x="2398" y="1390" class="e">C2-</text><text x="2398" y="1435" class="e">VS+</text><text x="2398" y="1502.5" class="e">VS-</text><text x="2398" y="1546.5" class="e">T1OUT</text><text x="2398" y="1592" class="e">T2OUT</text><text x="2398" y="1637" class="e">R1IN</text><text x="2398" y="1682" class="e">R2IN</text><text x="2398" y="1727" class="e">RS232</text>
<text transform="translate(2279 1325) rotate(-90)" class="m">VCC</text><text transform="translate(2279 1712) rotate(-90)" class="m">GND</text>
<text x="2130" y="1312" class="n e">1</text><text x="2130" y="1380" class="n e">3</text><text x="2130" y="1536" class="n e">11</text><text x="2130" y="1581" class="n e">10</text><text x="2130" y="1626" class="n e">12</text><text x="2130" y="1671" class="n e">9</text>
<text x="2412" y="1312" class="n">4</text><text x="2412" y="1380" class="n">5</text><text x="2412" y="1424" class="n">2</text><text x="2412" y="1492" class="n">6</text><text x="2412" y="1536" class="n">14</text><text x="2412" y="1581" class="n">7</text><text x="2412" y="1626" class="n">13</text><text x="2412" y="1671" class="n">8</text>
<text transform="translate(2267 1285) rotate(-90)" class="n">16</text><text transform="translate(2267 1775) rotate(-90)" class="n">15</text>
<text x="2100" y="1352">C5</text><text x="2100" y="1375">1uF</text><text x="2484" y="1352">C6</text><text x="2484" y="1375">1uF</text>
<text x="2622" y="1693">C3C4</text><text x="2626" y="1716">C C</text>

<!-- ===== C7-C12 bank ===== -->
<path class="w" d="M1924.5 1833H2148M1924.5 1900H2148M1924.5 1833V1860M1924.5 1874V1900M1968.5 1833V1860M1968.5 1874V1900M2013 1833V1860M2013 1874V1900M2057 1833V1860M2057 1874V1900M2103 1833V1860M2103 1874V1900M2148 1833V1860M2148 1874V1900M2035 1810V1833M2035 1900V1940"/>
<path class="t" d="M1905.5 1860h38M1905.5 1874h38M1949.5 1860h38M1949.5 1874h38M1994 1860h38M1994 1874h38M2038 1860h38M2038 1874h38M2084 1860h38M2084 1874h38M2129 1860h38M2129 1874h38"/>
<path d="M2024 1756H2046V1800L2035 1810L2024 1800Z" class="w"/><text transform="translate(2042 1782) rotate(-90)" class="m" font-size="16">VCC</text>
<circle cx="1968.5" cy="1833" r="4.5" class="j"/><circle cx="2013" cy="1833" r="4.5" class="j"/><circle cx="2035" cy="1833" r="4.5" class="j"/><circle cx="2057" cy="1833" r="4.5" class="j"/><circle cx="2103" cy="1833" r="4.5" class="j"/>
<circle cx="1968.5" cy="1900" r="4.5" class="j"/><circle cx="2013" cy="1900" r="4.5" class="j"/><circle cx="2035" cy="1900" r="4.5" class="j"/><circle cx="2057" cy="1900" r="4.5" class="j"/><circle cx="2103" cy="1900" r="4.5" class="j"/>
<use href="#g" x="2035" y="1940"/><text x="2035" y="1974" class="m">GND</text>
<text x="1968" y="1857" class="n">C7</text><text x="2013" y="1857" class="n">C8</text><text x="2057" y="1857" class="n">C9</text><text x="2101" y="1857" class="n">C10</text><text x="2146" y="1857" class="n">C11</text>
<text x="1968" y="1891" class="n">C</text><text x="2013" y="1891" class="n">C</text><text x="2057" y="1891" class="n">C</text><text x="2101" y="1891" class="n">C</text>
<text x="2175" y="1862">C12</text><text x="2175" y="1885">C</text>

<!-- ===== U3 CY62256 ===== -->
<rect x="1113.6" y="1473" width="179" height="360" class="b"/>
<path class="w" d="M1068 1496h45.6M1068 1518.5h45.6M1068 1541h45.6M1068 1563.5h45.6M1068 1586h45.6M1068 1608.5h45.6M1068 1631h45.6M1068 1653.5h45.6M1068 1676h45.6M1068 1698.5h45.6M1068 1721h45.6M1068 1743.5h45.6M1068 1766h45.6M1068 1788.5h45.6M1068 1811h45.6
M1292.7 1496H1340M1292.7 1518.5H1340M1292.7 1541H1340M1292.7 1563.5H1340M1292.7 1586H1340M1292.7 1608.5H1340M1292.7 1631H1340M1292.7 1653.5H1340M1292.7 1743.5H1340M1292.7 1766H1340M1292.7 1698.5H1452V1574H1475M1202 1406V1473M1202 1833V1891"/>
<use href="#v" x="1202" y="1406"/><text x="1202" y="1390" class="m">+5V</text><text x="1225" y="1433">U3</text><text x="1225" y="1456">CY62256-70PC</text>
<use href="#g" x="1202" y="1891"/><text x="1202" y="1929" class="m">GND</text>
<text transform="translate(1209 1502) rotate(-90)" class="m">VCC</text><text transform="translate(1209 1805) rotate(-90)" class="m">GND</text>
<text x="1120" y="1502.5">A0</text><text x="1120" y="1525">A1</text><text x="1120" y="1547.5">A2</text><text x="1120" y="1570">A3</text><text x="1120" y="1592.5">A4</text><text x="1120" y="1615">A5</text><text x="1120" y="1637.5">A6</text><text x="1120" y="1660">A7</text><text x="1120" y="1682.5">A8</text><text x="1120" y="1705">A9</text><text x="1120" y="1727.5">A10</text><text x="1120" y="1750">A11</text><text x="1120" y="1772.5">A12</text><text x="1120" y="1795">A13</text><text x="1120" y="1817.5">A14</text>
<text x="1286" y="1502.5" class="e">Q0</text><text x="1286" y="1525" class="e">Q1</text><text x="1286" y="1547.5" class="e">Q2</text><text x="1286" y="1570" class="e">Q3</text><text x="1286" y="1592.5" class="e">Q4</text><text x="1286" y="1615" class="e">Q5</text><text x="1286" y="1637.5" class="e">Q6</text><text x="1286" y="1660" class="e">Q7</text><text x="1286" y="1705" class="e o">CS</text><text x="1286" y="1750" class="e o">OE</text><text x="1286" y="1772.5" class="e o">WE</text>
<text x="1110" y="1493" class="n e">10</text><text x="1110" y="1515.5" class="n e">9</text><text x="1110" y="1538" class="n e">8</text><text x="1110" y="1560.5" class="n e">7</text><text x="1110" y="1583" class="n e">6</text><text x="1110" y="1605.5" class="n e">5</text><text x="1110" y="1628" class="n e">4</text><text x="1110" y="1650.5" class="n e">3</text><text x="1110" y="1673" class="n e">25</text><text x="1110" y="1695.5" class="n e">24</text><text x="1110" y="1718" class="n e">21</text><text x="1110" y="1740.5" class="n e">23</text><text x="1110" y="1763" class="n e">2</text><text x="1110" y="1785.5" class="n e">26</text><text x="1110" y="1808" class="n e">1</text>
<text x="1297" y="1493" class="n">11</text><text x="1297" y="1515.5" class="n">12</text><text x="1297" y="1538" class="n">13</text><text x="1297" y="1560.5" class="n">15</text><text x="1297" y="1583" class="n">16</text><text x="1297" y="1605.5" class="n">17</text><text x="1297" y="1628" class="n">18</text><text x="1297" y="1650.5" class="n">19</text><text x="1297" y="1695.5" class="n">20</text><text x="1297" y="1740.5" class="n">22</text><text x="1297" y="1763" class="n">27</text>
<use href="#h50" x="1018" y="1496"/><use href="#h50" x="1018" y="1518.5"/><use href="#h50" x="1018" y="1541"/><use href="#h50" x="1018" y="1563.5"/><use href="#h50" x="1018" y="1586"/><use href="#h50" x="1018" y="1608.5"/><use href="#h50" x="1018" y="1631"/><use href="#h50" x="1018" y="1653.5"/><use href="#h50" x="1018" y="1676"/><use href="#h50" x="1018" y="1698.5"/><use href="#h58" x="1010" y="1721"/><use href="#h58" x="1010" y="1743.5"/><use href="#h58" x="1010" y="1766"/><use href="#h58" x="1010" y="1788.5"/><use href="#h58" x="1010" y="1811"/>
<text x="1043" y="1502.5" class="l">A0</text><text x="1043" y="1525" class="l">A1</text><text x="1043" y="1547.5" class="l">A2</text><text x="1043" y="1570" class="l">A3</text><text x="1043" y="1592.5" class="l">A4</text><text x="1043" y="1615" class="l">A5</text><text x="1043" y="1637.5" class="l">A6</text><text x="1043" y="1660" class="l">A7</text><text x="1043" y="1682.5" class="l">A8</text><text x="1043" y="1705" class="l">A9</text><text x="1039" y="1727.5" class="l">A10</text><text x="1039" y="1750" class="l">A11</text><text x="1039" y="1772.5" class="l">A12</text><text x="1039" y="1795" class="l">A13</text><text x="1039" y="1817.5" class="l">A14</text>
<use href="#h50" x="1340" y="1496"/><use href="#h50" x="1340" y="1518.5"/><use href="#h50" x="1340" y="1541"/><use href="#h50" x="1340" y="1563.5"/><use href="#h50" x="1340" y="1586"/><use href="#h50" x="1340" y="1608.5"/><use href="#h50" x="1340" y="1631"/><use href="#h50" x="1340" y="1653.5"/><use href="#h58" x="1340" y="1743.5"/><use href="#h50" x="1340" y="1766"/>
<text x="1365" y="1502.5" class="l">D0</text><text x="1365" y="1525" class="l">D1</text><text x="1365" y="1547.5" class="l">D2</text><text x="1365" y="1570" class="l">D3</text><text x="1365" y="1592.5" class="l">D4</text><text x="1365" y="1615" class="l">D5</text><text x="1365" y="1637.5" class="l">D6</text><text x="1365" y="1660" class="l">D7</text><text x="1369" y="1750" class="l">A14</text><text x="1365" y="1772.5" class="l">RW</text>

<!-- ===== U6D ===== -->
<path class="b" d="M1551 1540H1519A34 34 0 0 0 1519 1608H1551Z"/>
<circle cx="1480" cy="1574" r="5" class="w"/>
<path class="w" d="M1551 1552.5H1589M1551 1597H1589"/>
<use href="#p58" x="1589" y="1552.5"/><text x="1620" y="1559" class="l">!A15</text>
<use href="#h76" x="1589" y="1597"/><text x="1627" y="1603.5" class="l">clock</text>
<text x="1518" y="1637" class="m">74HC00</text><text x="1518" y="1660" class="m">U6D</text>
<text x="1460" y="1569" class="n">11</text><text x="1558" y="1548" class="n">13</text><text x="1558" y="1593" class="n">12</text>

<!-- ===== RV1 / J5 ===== -->
<path class="w" d="M1462 1686H1696M1462 1686V1821M1518 1686V1708l-8 4 16 8-16 8 16 8-16 8 16 8-8 4V1766M1530 1731.5H1696M1530 1722V1741M1574.6 1686V2023.5H1696
M1653 1708.5H1696M1653 1753.5H1696M1653 1776H1696M1653 1798.5H1696M1653 1821H1696M1653 1843.5H1696M1653 1866H1696M1653 1888.5H1696M1653 1911H1696M1653 1933.5H1696M1653 1956H1696M1653 1978.5H1696M1653 2001H1696"/>
<use href="#x" x="1518" y="1766"/>
<circle cx="1518" cy="1686" r="4.5" class="j"/><circle cx="1574.6" cy="1686" r="4.5" class="j"/>
<use href="#g" x="1462" y="1821"/><text x="1462" y="1862" class="m">GND</text>
<text x="1464" y="1727">RV1</text><text x="1464" y="1750">10k</text><text x="1542" y="1727" class="n">2</text>
<use href="#k" x="1696" y="1686"/><use href="#k" x="1696" y="1708.5"/><use href="#k" x="1696" y="1731"/><use href="#k" x="1696" y="1753.5"/><use href="#k" x="1696" y="1776"/><use href="#k" x="1696" y="1798.5"/><use href="#k" x="1696" y="1821"/><use href="#k" x="1696" y="1843.5"/><use href="#k" x="1696" y="1866"/><use href="#k" x="1696" y="1888.5"/><use href="#k" x="1696" y="1911"/><use href="#k" x="1696" y="1933.5"/><use href="#k" x="1696" y="1956"/><use href="#k" x="1696" y="1978.5"/><use href="#k" x="1696" y="2001"/><use href="#k" x="1696" y="2023.5"/>
<text x="1672" y="1682" class="m n">1</text><text x="1672" y="1704.5" class="m n">2</text><text x="1672" y="1727" class="m n">3</text><text x="1672" y="1749.5" class="m n">4</text><text x="1672" y="1772" class="m n">5</text><text x="1672" y="1794.5" class="m n">6</text><text x="1672" y="1817" class="m n">7</text><text x="1672" y="1839.5" class="m n">8</text><text x="1672" y="1862" class="m n">9</text><text x="1672" y="1884.5" class="m n">10</text><text x="1672" y="1907" class="m n">11</text><text x="1672" y="1929.5" class="m n">12</text><text x="1672" y="1952" class="m n">13</text><text x="1672" y="1974.5" class="m n">14</text><text x="1672" y="1997" class="m n">15</text><text x="1672" y="2019.5" class="m n">16</text>
<use href="#r54" x="1599" y="1708.5"/><text x="1623" y="1715" class="l">VCC</text>
<use href="#h64" x="1589" y="1753.5"/><use href="#h64" x="1589" y="1776"/><use href="#h64" x="1589" y="1798.5"/><use href="#h64" x="1589" y="1821"/><use href="#h64" x="1589" y="1843.5"/><use href="#h64" x="1589" y="1866"/><use href="#h64" x="1589" y="1888.5"/><use href="#h64" x="1589" y="1911"/><use href="#h64" x="1589" y="1933.5"/><use href="#h64" x="1589" y="1956"/><use href="#h64" x="1589" y="1978.5"/>
<text x="1621" y="1760" class="l">PA5</text><text x="1621" y="1782.5" class="l">PA6</text><text x="1621" y="1805" class="l">PA7</text><text x="1621" y="1827.5" class="l">PB0</text><text x="1621" y="1850" class="l">PB1</text><text x="1621" y="1872.5" class="l">PB2</text><text x="1621" y="1895" class="l">PB3</text><text x="1621" y="1917.5" class="l">PB4</text><text x="1621" y="1940" class="l">PB5</text><text x="1621" y="1962.5" class="l">PB6</text><text x="1621" y="1985" class="l">PB7</text>
<use href="#r54" x="1599" y="2001"/><text x="1623" y="2007.5" class="l">VCC</text>
<text x="1720" y="1850">J5</text><text x="1720" y="1873">Display Connector</text>

<!-- ===== U6E ===== -->
<rect x="765" y="1091" width="90" height="135" class="b"/>
<path class="w" d="M810.6 1026V1091M810.6 1226V1326M763 1270H810.6"/>
<circle cx="810.6" cy="1270" r="4.5" class="j"/>
<use href="#v" x="810.6" y="1026"/><text x="810.6" y="1010" class="m">+5V</text>
<use href="#g" x="810.6" y="1326"/><text x="810.6" y="1366" class="m">GND</text>
<use href="#r54" x="709" y="1270"/><text x="733" y="1276.5" class="l">GND</text>
<text transform="translate(817 1125) rotate(-90)" class="m">VCC</text><text transform="translate(817 1192) rotate(-90)" class="m">GND</text>
<text x="872" y="1153">U6E</text><text x="872" y="1176">74HC00</text>
<text transform="translate(805 1080) rotate(-90)" class="n">14</text><text transform="translate(805 1258) rotate(-90)" class="n">7</text>

<!-- ===== J2 USB / SW2 / R3 / D3 ===== -->
<rect x="540.5" y="1427.5" width="89" height="135.5" class="b"/>
<path class="w" d="M629.6 1450.7H712M754 1450.7H878.6M718 1448L745 1436M629.6 1495.6H652M629.6 1518H652M563 1563V1608.5H798.6V1574M585 1563V1675M798.6 1450.7V1461M798.6 1507V1552"/>
<rect x="789.5" y="1461" width="18.5" height="46" class="b"/>
<path class="w" d="M787 1552H810L798.6 1572ZM787 1574H810M816 1583l-8 8m4 0h-4v-4M824 1583l-8 8m4 0h-4v-4"/>
<circle cx="716" cy="1451" r="4" class="w"/><circle cx="750" cy="1451" r="4" class="w"/>
<circle cx="798.6" cy="1450.7" r="4.5" class="j"/><circle cx="585" cy="1608.5" r="4.5" class="j"/>
<use href="#x" x="652" y="1495.6"/><use href="#x" x="652" y="1518"/>
<rect x="549" y="1437" width="12" height="12" fill="#000"/>
<circle cx="551" cy="1474" r="6" class="j"/><path d="M557 1474H585M567 1474l6-8h6M567 1474l6 8h6" class="w"/><path d="M585 1469l8 5-8 5z" class="j"/><circle cx="580" cy="1466" r="3" class="j"/><rect x="577" y="1479" width="6" height="6" class="j"/>
<use href="#p54" x="878.6" y="1450.7"/><text x="907" y="1457" class="l">VCC</text>
<use href="#g" x="585" y="1675"/><text x="585" y="1715" class="m">GND</text>
<text x="623" y="1457" class="e">VBUS</text><text x="611" y="1502" class="e">D+</text><text x="611" y="1524" class="e">D-</text>
<text transform="translate(571 1540) rotate(-90)" class="m">Shield</text><text transform="translate(592 1537) rotate(-90)" class="m">GND</text>
<text x="585" y="1389" class="m">J2</text><text x="585" y="1411" class="m">USB_B</text>
<text x="636" y="1446" class="n">1</text><text x="636" y="1491" class="n">3</text><text x="636" y="1514" class="n">2</text>
<text transform="translate(561 1590) rotate(-90)" class="n">5</text><text transform="translate(583 1590) rotate(-90)" class="n">4</text>
<text x="731" y="1401" class="m">SW2</text><text x="731" y="1423" class="m">SW_SPST</text><text x="702" y="1446" class="n">1</text><text x="760" y="1446" class="n">2</text>
<text x="822" y="1479">R3</text><text x="822" y="1502">220</text><text x="838" y="1571">D3</text><text x="838" y="1594">LED</text>

<!-- ===== U6B ===== -->
<path class="b" d="M821 1833H854.5A33.5 33.5 0 0 1 854.5 1900H821Z"/>
<circle cx="893" cy="1866.5" r="5" class="w"/>
<path class="w" d="M787 1844H821M787 1889H821M898 1866.5H923"/>
<use href="#x" x="787" y="1844"/><use href="#x" x="787" y="1889"/><use href="#x" x="923" y="1866.5"/>
<text x="855" y="1793" class="m">U6B</text><text x="855" y="1816" class="m">74HC00</text>
<text x="800" y="1840" class="n">4</text><text x="800" y="1885" class="n">5</text><text x="902" y="1862" class="n">6</text>

<!-- ===== J9 Expansion ===== -->
<rect x="3026.5" y="1688" width="43" height="426" class="b"/>
<path class="w" d="M2991 1699H3026.5M2991 1721.5H3026.5M2991 1744H3026.5M2991 1766.5H3026.5M2991 1789H3026.5M2991 1811.5H3026.5M2991 1834H3026.5M2991 1856.5H3026.5M2991 1879H3026.5M2991 1901.5H3026.5M2991 1924H3026.5M2991 1946.5H3026.5M2991 1969H3026.5M2991 1991.5H3026.5M2991 2014H3026.5M2991 2036.5H3026.5M2991 2059H3026.5M2991 2081.5H3026.5M2991 2104H3026.5
M3069.6 1699H3107M3069.6 1721.5H3107M3069.6 1744H3107M3069.6 1766.5H3107M3069.6 1789H3107M3069.6 1811.5H3107M3069.6 1834H3107M3069.6 1856.5H3107M3069.6 1879H3107M3069.6 1901.5H3107M3069.6 1924H3107M3069.6 1946.5H3107M3069.6 1969H3107M3069.6 1991.5H3107M3069.6 2014H3107M3069.6 2036.5H3107M3069.6 2059H3104M3069.6 2081.5H3107M3069.6 2104H3104M3048 2114V2150"/>
<path stroke="#000" stroke-width="3.5" fill="none" d="M3026.5 1699h10M3026.5 1721.5h10M3026.5 1744h10M3026.5 1766.5h10M3026.5 1789h10M3026.5 1811.5h10M3026.5 1834h10M3026.5 1856.5h10M3026.5 1879h10M3026.5 1901.5h10M3026.5 1924h10M3026.5 1946.5h10M3026.5 1969h10M3026.5 1991.5h10M3026.5 2014h10M3026.5 2036.5h10M3026.5 2059h10M3026.5 2081.5h10M3026.5 2104h10M3059.6 1699h10M3059.6 1721.5h10M3059.6 1744h10M3059.6 1766.5h10M3059.6 1789h10M3059.6 1811.5h10M3059.6 1834h10M3059.6 1856.5h10M3059.6 1879h10M3059.6 1901.5h10M3059.6 1924h10M3059.6 1946.5h10M3059.6 1969h10M3059.6 1991.5h10M3059.6 2014h10M3059.6 2036.5h10M3059.6 2059h10M3059.6 2081.5h10M3059.6 2104h10"/>
<use href="#x" x="3104" y="2059"/><use href="#x" x="3104" y="2104"/><use href="#x" x="3048" y="2150"/>
<text transform="translate(3043 2140) rotate(-90)" class="m">MP</text>
<text x="3047" y="1648" class="m">J9</text><text x="3047" y="1671" class="m">Expansion / Diag Port</text>
<text x="3008" y="1695" class="m n">1</text><text x="3008" y="1717.5" class="m n">3</text><text x="3008" y="1740" class="m n">5</text><text x="3008" y="1762.5" class="m n">7</text><text x="3008" y="1785" class="m n">9</text><text x="3008" y="1807.5" class="m n">11</text><text x="3008" y="1830" class="m n">13</text><text x="3008" y="1852.5" class="m n">15</text><text x="3008" y="1875" class="m n">17</text><text x="3008" y="1897.5" class="m n">19</text><text x="3008" y="1920" class="m n">21</text><text x="3008" y="1942.5" class="m n">23</text><text x="3008" y="1965" class="m n">25</text><text x="3008" y="1987.5" class="m n">27</text><text x="3008" y="2010" class="m n">29</text><text x="3008" y="2032.5" class="m n">31</text><text x="3008" y="2055" class="m n">33</text><text x="3008" y="2077.5" class="m n">35</text><text x="3008" y="2100" class="m n">37</text>
<text x="3088" y="1695" class="m n">2</text><text x="3088" y="1717.5" class="m n">4</text><text x="3088" y="1740" class="m n">6</text><text x="3088" y="1762.5" class="m n">8</text><text x="3088" y="1785" class="m n">10</text><text x="3088" y="1807.5" class="m n">12</text><text x="3088" y="1830" class="m n">14</text><text x="3088" y="1852.5" class="m n">16</text><text x="3088" y="1875" class="m n">18</text><text x="3088" y="1897.5" class="m n">20</text><text x="3088" y="1920" class="m n">22</text><text x="3088" y="1942.5" class="m n">24</text><text x="3088" y="1965" class="m n">26</text><text x="3088" y="1987.5" class="m n">28</text><text x="3088" y="2010" class="m n">30</text><text x="3088" y="2032.5" class="m n">32</text><text x="3088" y="2055" class="m n">34</text><text x="3088" y="2077.5" class="m n">36</text><text x="3088" y="2100" class="m n">38</text>
<use href="#r54" x="2937" y="1699"/><text x="2961" y="1705.5" class="l">VCC</text>
<use href="#r54" x="2937" y="1721.5"/><text x="2961" y="1728" class="l">GND</text>
<use href="#h50" x="2941" y="1744"/><use href="#h50" x="2941" y="1766.5"/><use href="#h50" x="2941" y="1789"/><use href="#h50" x="2941" y="1811.5"/><use href="#h50" x="2941" y="1834"/><use href="#h50" x="2941" y="1856.5"/><use href="#h50" x="2941" y="1879"/><use href="#h50" x="2941" y="1901.5"/><use href="#h50" x="2941" y="1924"/><use href="#h50" x="2941" y="1946.5"/>
<use href="#h58" x="2933" y="1969"/><use href="#h58" x="2933" y="1991.5"/><use href="#h58" x="2933" y="2014"/><use href="#h58" x="2933" y="2036.5"/><use href="#h58" x="2933" y="2059"/><use href="#h58" x="2933" y="2081.5"/>
<use href="#r54" x="2937" y="2104"/><text x="2961" y="2110.5" class="l">GND</text>
<text x="2966" y="1750.5" class="l">A0</text><text x="2966" y="1773" class="l">A1</text><text x="2966" y="1795.5" class="l">A2</text><text x="2966" y="1818" class="l">A3</text><text x="2966" y="1840.5" class="l">A4</text><text x="2966" y="1863" class="l">A5</text><text x="2966" y="1885.5" class="l">A6</text><text x="2966" y="1908" class="l">A7</text><text x="2966" y="1930.5" class="l">A8</text><text x="2966" y="1953" class="l">A9</text>
<text x="2962" y="1975.5" class="l">A10</text><text x="2962" y="1998" class="l">A11</text><text x="2962" y="2020.5" class="l">A12</text><text x="2962" y="2043" class="l">A13</text><text x="2962" y="2065.5" class="l">A14</text><text x="2962" y="2088" class="l">A15</text>
<use href="#p54" x="3107" y="1699"/><text x="3136" y="1705.5" class="l">3.3v</text>
<use href="#p54" x="3107" y="1721.5"/><text x="3136" y="1728" class="l">GND</text>
<use href="#h50" x="3107" y="1744"/><use href="#h50" x="3107" y="1766.5"/><use href="#h50" x="3107" y="1789"/><use href="#h50" x="3107" y="1811.5"/><use href="#h50" x="3107" y="1834"/><use href="#h50" x="3107" y="1856.5"/><use href="#h50" x="3107" y="1879"/><use href="#h50" x="3107" y="1901.5"/>
<use href="#h58" x="3107" y="1924"/><use href="#h58" x="3107" y="1946.5"/><use href="#h58" x="3107" y="1969"/><use href="#h76" x="3107" y="1991.5"/><use href="#h50" x="3107" y="2014"/><use href="#h50" x="3107" y="2036.5"/><use href="#h76" x="3107" y="2081.5"/>
<text x="3132" y="1750.5" class="l">D0</text><text x="3132" y="1773" class="l">D1</text><text x="3132" y="1795.5" class="l">D2</text><text x="3132" y="1818" class="l">D3</text><text x="3132" y="1840.5" class="l">D4</text><text x="3132" y="1863" class="l">D5</text><text x="3132" y="1885.5" class="l">D6</text><text x="3132" y="1908" class="l">D7</text>
<text x="3136" y="1930.5" class="l">PA4</text><text x="3136" y="1953" class="l">PA5</text><text x="3136" y="1975.5" class="l">PA6</text><text x="3145" y="1998" class="l">Reset</text><text x="3132" y="2020.5" class="l">IRQ</text><text x="3132" y="2043" class="l">RW</text><text x="3145" y="2088" class="l">clock</text>
</svg>
</body></html>
